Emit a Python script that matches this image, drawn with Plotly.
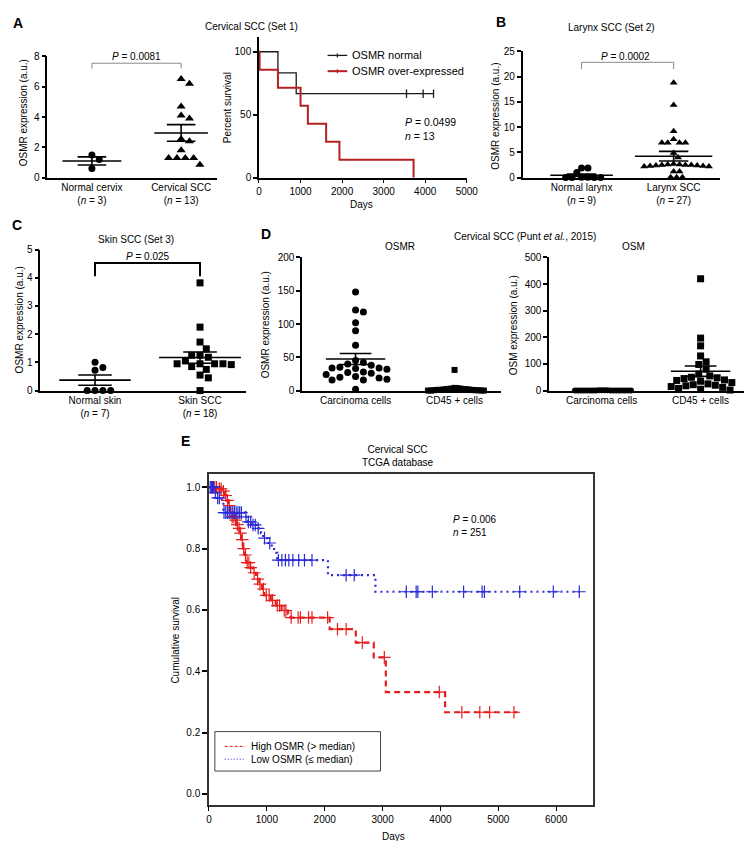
import numpy as np
import plotly.graph_objects as go

W, H = 756, 841
FONT = "Liberation Sans, Arial, Helvetica, sans-serif"

# ------------------------------------------------------------------ data
# Panel A (Set 1): OSMR expression
a_cats = ["Normal cervix<br>(<i>n</i> = 3)", "Cervical SCC<br>(<i>n</i> = 13)"]
a_normal = [1.5, 1.2, 0.6]
a_scc = [6.5, 6.2, 4.7, 4.1, 3.9, 2.55, 2.4, 1.8, 1.3, 1.3, 1.3, 1.3, 0.85]
a_mean = [1.1, 2.95]
a_sem = [0.27, 0.55]

# Panel A: Kaplan-Meier (percent survival)
km_names = ["OSMR normal", "OSMR over-expressed"]
km_norm_t = [0, 456, 896, 4200]
km_norm_s = [100, 83.3, 66.7, 66.7]
km_norm_cens = [3550, 3950, 4200]
km_over_t = [0, 15, 456, 1000, 1176, 1616, 1936, 3720]
km_over_s = [100, 85.7, 71.4, 57.1, 42.9, 28.6, 14.3, 0]

# Panel B (Set 2)
b_cats = ["Normal larynx<br>(<i>n</i> = 9)", "Larynx SCC<br>(<i>n</i> = 27)"]
b_normal = [1.0, 1.9, 1.9, 0.1, 0.1, 0.05, 0.05, 0.05, 0.05]
b_scc = [18.8, 14.4, 9.2, 7.6, 6.9, 6.9, 6.9, 6.9, 4.9, 4.0,
         2.7, 2.6, 2.6, 2.5, 2.5, 2.5, 2.4, 2.4, 2.3, 2.3, 2.2, 2.2,
         1.2, 1.2, 0.1, 0.1, 0.1]
b_mean = [0.46, 4.25]
b_sem = [0.24, 0.95]

# Panel C (Set 3)
c_cats = ["Normal skin<br>(<i>n</i> = 7)", "Skin SCC<br>(<i>n</i> = 18)"]
c_normal = [1.0, 0.82, 0.72, 0.0, 0.0, 0.0, 0.0]
c_scc = [3.82, 2.25, 1.72, 1.48, 1.25, 1.25, 1.18, 1.05, 0.95, 0.95, 0.95,
         0.95, 0.92, 0.85, 0.75, 0.55, 0.45, 0.0]
c_mean = [0.37, 1.17]
c_sem = [0.18, 0.2]

# Panel D (Punt et al., 2015)
d_cats = ["Carcinoma cells", "CD45 + cells"]
d_osmr_carc = [148, 121, 118, 102, 90, 68, 45, 42, 40, 38, 35, 34, 34, 33, 32,
               28, 27, 26, 24, 21, 20, 19, 17, 16, 16, 2]
d_osmr_cd45 = [31, 4, 3.5, 3, 3, 2.5, 2, 2, 2, 1.5, 1.5, 1, 1, 1, 0.5, 0.5,
               0.5, 0, 0, 0, 0]
d_osmr_mean = [47.4, 1.8]
d_osmr_sem = [8.2, 1.4]
d_osm_carc = [1.5, 1, 1, 1, 0.5, 0.5, 0.5, 0.5, 0, 0, 0, 0, 0, 0, 0, 0, 0, 0, 0, 0]
d_osm_cd45 = [420, 197, 168, 130, 108, 98, 80, 62, 55, 50, 48, 45, 40, 38, 35,
              30, 25, 22, 20, 18, 15, 12, 8, 5, 2]
d_osm_mean = [0.5, 72.8]
d_osm_sem = [0.2, 19.5]

# Panel E: TCGA Kaplan-Meier
e_names = ["High OSMR (&gt; median)", "Low OSMR (≤ median)"]
e_high_t = [0, 164, 220, 277, 305, 334, 362, 390, 447, 475, 503, 531, 560, 588,
            616, 644, 701, 757, 814, 870, 915, 955, 1068, 1153, 1255, 1368, 1407,
            2085, 2537, 2847, 3056, 4080, 5333]
e_high_s = [1.0, 0.995, 0.987, 0.973, 0.957, 0.94, 0.914, 0.903, 0.893, 0.878,
            0.866, 0.85, 0.829, 0.8, 0.779, 0.754, 0.738, 0.721, 0.7, 0.684,
            0.668, 0.647, 0.631, 0.614, 0.598, 0.587, 0.575, 0.537, 0.493,
            0.445, 0.332, 0.266, 0.266]
e_high_cens = [40, 70, 100, 130, 180, 210, 250, 290, 320, 350, 400, 430, 460,
               490, 520, 545, 575, 600, 630, 660, 690, 720, 780, 840, 880, 940,
               990, 1040, 1100, 1180, 1220, 1300, 1330, 1420, 1540, 1580, 1720,
               1780, 2050, 2220, 2370, 2650, 3030, 3980, 4370, 4680, 4850, 5270]
e_low_t = [0, 90, 136, 220, 249, 616, 672, 729, 814, 898, 938, 1012, 1085,
           1125, 1181, 2056, 2876, 6407]
e_low_s = [1.0, 0.982, 0.965, 0.955, 0.917, 0.903, 0.887, 0.877, 0.866, 0.85,
           0.834, 0.818, 0.805, 0.786, 0.762, 0.713, 0.659, 0.659]
e_low_cens = [20, 40, 60, 80, 110, 150, 180, 260, 290, 320, 350, 380, 410, 440,
              470, 500, 530, 560, 640, 680, 720, 760, 800, 850, 960, 1050, 1200,
              1260, 1320, 1380, 1450, 1550, 1650, 1780, 2370, 2510, 3410, 3580,
              3610, 3860, 4400, 4720, 4760, 5370, 5950, 6400]

# ------------------------------------------------------------------ helpers
fig = go.Figure()


def step_level(ts, ss, t):
    i = np.searchsorted(np.asarray(ts), np.asarray(t), side="right") - 1
    return np.asarray(ss)[np.clip(i, 0, len(ss) - 1)]


def swarm(vals, ppu_y, ppu_x, gap):
    v = np.asarray(vals, float)
    order = np.argsort(-v, kind="stable")
    placed = []
    offs = np.zeros(len(v))
    step = gap / 4.0
    for i in order:
        y = v[i] * ppu_y
        k = 0
        found = None
        while found is None:
            cands = [0.0] if k == 0 else [k * step, -k * step]
            for c in cands:
                if all((c - px) ** 2 + (y - py) ** 2 >= gap ** 2 - 1e-9 for px, py in placed):
                    found = c
                    break
            k += 1
        placed.append((found, y))
        offs[i] = found / ppu_x
    return offs


# panel geometry (pixel domains) -> axes
panels = {
    # name: (x_px_left, x_px_right, xrange, y_px_bottom, y_px_top, yrange)
    "A1": (37, 210, [-0.5, 1.4], 166, 43, [0, 8]),
    "A2": (253, 465, [0, 5000], 166, 23, [0, 112]),
    "B": (522, 723, [-0.64, 1.5], 166, 38, [0, 25]),
    "C": (30, 240, [-0.52, 1.44], 382, 239, [0, 5]),
    "D1": (297, 500, [-0.54, 1.47], 382, 247, [0, 200]),
    "D2": (549, 748, [-0.53, 1.44], 382, 247, [0, 500]),
    "E": (202, 594, [0, 6640], 802, 467, [-0.035, 1.042]),
}
order_names = ["A1", "A2", "B", "C", "D1", "D2", "E"]
axid = {n: ("" if i == 0 else str(i + 1)) for i, n in enumerate(order_names)}


def scale(name):
    xl, xr, xrg, yb, yt, yrg = panels[name]
    return (yb - yt) / (yrg[1] - yrg[0]), (xr - xl) / (xrg[1] - xrg[0])


def dots(name, cat, vals, symbol, size, gap):
    ppu_y, ppu_x = scale(name)
    offs = swarm(vals, ppu_y, ppu_x, gap)
    fig.add_trace(go.Scatter(
        x=cat + offs, y=vals, mode="markers",
        marker=dict(symbol=symbol, size=size, color="black", line=dict(width=0)),
        xaxis="x" + axid[name], yaxis="y" + axid[name],
        showlegend=False, cliponaxis=False, hoverinfo="skip"))


def mean_sem(name, means, sems, hw_mean, hw_sem, width=1.6):
    for cat, (m, s) in enumerate(zip(means, sems)):
        xs = [cat - hw_mean[cat], cat + hw_mean[cat], None,
              cat - hw_sem, cat + hw_sem, None,
              cat - hw_sem, cat + hw_sem, None, cat, cat]
        ys = [m, m, None, m + s, m + s, None, m - s, m - s, None, m - s, m + s]
        fig.add_trace(go.Scatter(
            x=xs, y=ys, mode="lines", line=dict(color="black", width=width),
            xaxis="x" + axid[name], yaxis="y" + axid[name],
            showlegend=False, cliponaxis=False, hoverinfo="skip"))


# ------------------------------------------------------------------ Panel A dot plot
dots("A1", 0, a_normal, "circle", 7, 7.5)
dots("A1", 1, a_scc, "triangle-up", 8, 8.5)
mean_sem("A1", a_mean, a_sem, [0.33, 0.3], 0.16)

# ------------------------------------------------------------------ Panel A KM
BLACK, DRED = "#1a1a1a", "#b3201e"
fig.add_trace(go.Scatter(
    x=km_norm_t, y=km_norm_s, mode="lines", line=dict(color=BLACK, width=1.3, shape="hv"),
    name=km_names[0], xaxis="x2", yaxis="y2", showlegend=False, cliponaxis=False))
fig.add_trace(go.Scatter(
    x=km_norm_cens, y=step_level(km_norm_t, km_norm_s, km_norm_cens), mode="markers",
    marker=dict(symbol="line-ns", size=6, line=dict(color=BLACK, width=1.3)),
    xaxis="x2", yaxis="y2", showlegend=False, cliponaxis=False))
fig.add_trace(go.Scatter(
    x=km_over_t, y=km_over_s, mode="lines", line=dict(color=DRED, width=2, shape="hv"),
    name=km_names[1], xaxis="x2", yaxis="y2", showlegend=False, cliponaxis=False))

# ------------------------------------------------------------------ Panel B
dots("B", 0, b_normal, "circle", 7, 6.5)
dots("B", 1, b_scc, "triangle-up", 7, 6)
mean_sem("B", b_mean, b_sem, [0.34, 0.42], 0.16)

# ------------------------------------------------------------------ Panel C
dots("C", 0, c_normal, "circle", 7, 8)
dots("C", 1, c_scc, "square", 7, 8.5)
mean_sem("C", c_mean, c_sem, [0.34, 0.39], 0.16)

# ------------------------------------------------------------------ Panel D
dots("D1", 0, d_osmr_carc, "circle", 7, 8)
dots("D1", 1, d_osmr_cd45, "square", 6, 3)
mean_sem("D1", d_osmr_mean, d_osmr_sem, [0.3, 0.3], 0.16)
dots("D2", 0, d_osm_carc, "circle", 6, 3)
dots("D2", 1, d_osm_cd45, "square", 7, 7.5)
mean_sem("D2", d_osm_mean, d_osm_sem, [0.3, 0.3], 0.16)

# ------------------------------------------------------------------ Panel E
RED, BLUE = "#e61e1e", "#2a2ad6"
fig.add_trace(go.Scatter(
    x=e_high_t, y=e_high_s, mode="lines",
    line=dict(color=RED, width=2.2, shape="hv", dash="6px,4px"),
    name=e_names[0], xaxis="x7", yaxis="y7", showlegend=False))
fig.add_trace(go.Scatter(
    x=e_low_t, y=e_low_s, mode="lines",
    line=dict(color=BLUE, width=2.2, shape="hv", dash="2px,4px"),
    name=e_names[1], xaxis="x7", yaxis="y7", showlegend=False))
fig.add_trace(go.Scatter(
    x=e_high_cens, y=step_level(e_high_t, e_high_s, e_high_cens), mode="markers",
    marker=dict(symbol="cross-thin", size=9, line=dict(color=RED, width=1.2)),
    xaxis="x7", yaxis="y7", showlegend=False))
fig.add_trace(go.Scatter(
    x=e_low_cens, y=step_level(e_low_t, e_low_s, e_low_cens), mode="markers",
    marker=dict(symbol="cross-thin", size=9, line=dict(color=BLUE, width=1.2)),
    xaxis="x7", yaxis="y7", showlegend=False))

# ------------------------------------------------------------------ axes
tickfont = dict(size=10, family=FONT, color="black")
cat_text = {"A1": a_cats, "B": b_cats, "C": c_cats, "D1": d_cats, "D2": d_cats}
ydticks = {"A1": 2, "A2": 50, "B": 5, "C": 1, "D1": 50, "D2": 100, "E": 0.2}
layout = {}
for name in order_names:
    xl, xr, xrg, yb, yt, yrg = panels[name]
    i = axid[name]
    xa = dict(domain=[xl / W, xr / W], range=xrg, anchor="y" + i, showgrid=False,
              zeroline=False, showline=True, linecolor="black", linewidth=1.5,
              tickfont=tickfont, fixedrange=True)
    ya = dict(domain=[1 - yb / H, 1 - yt / H], range=yrg, anchor="x" + i, showgrid=False,
              zeroline=False, showline=True, linecolor="black", linewidth=1.5,
              ticks="outside", ticklen=4, tickwidth=1.5, tickcolor="black",
              dtick=ydticks[name], tick0=0, tickfont=tickfont, fixedrange=True)
    if name in cat_text:
        xa.update(tickvals=[0, 1], ticktext=cat_text[name], ticks="")
    else:
        xa.update(ticks="outside", ticklen=4, tickwidth=1.3, tickcolor="black",
                  dtick=1000, tick0=0)
    if name == "E":
        for a in (xa, ya):
            a.update(mirror=True, linecolor="#333", linewidth=1.5)
        ya.update(tickformat=".1f", tickvals=[0, 0.2, 0.4, 0.6, 0.8, 1.0], ticklen=5)
        xa.update(ticklen=5)
    layout["xaxis" + i] = xa
    layout["yaxis" + i] = ya


def ann(text, x, y, size=10, bold=False, angle=0, align="center", xanchor="center"):
    if bold:
        text = "<b>" + text + "</b>"
    return dict(text=text, x=x / W, y=1 - y / H, xref="paper", yref="paper",
                showarrow=False, textangle=angle, xanchor=xanchor, yanchor="middle",
                align=align, font=dict(size=size, family=FONT, color="black"))


annotations = [
    ann("A", 7, 9, 14, True), ann("B", 500, 8, 14, True), ann("C", 6, 214, 14, True),
    ann("D", 260, 223, 14, True), ann("E", 178, 433, 14, True),
    ann("Cervical SCC (Set 1)", 245, 13),
    ann("Larynx SCC (Set 2)", 613, 14),
    ann("Skin SCC (Set 3)", 128, 229),
    ann("Cervical SCC (Punt <i>et al.</i>, 2015)", 524, 226),
    ann("OSMR", 397, 236), ann("OSM", 635, 236),
    ann("Cervical SCC<br>TCGA database", 395, 448),
    ann("<i>P</i> = 0.0081", 128, 43),
    ann("<i>P</i> = 0.0002", 627, 43),
    ann("<i>P</i> = 0.025", 140, 246),
    ann("<i>P</i> = 0.0499<br><i>n</i> = 13", 400, 117, 10.5, align="left", xanchor="left"),
    ann("<i>P</i> = 0.006<br><i>n</i> = 251", 449, 519, 10, align="left", xanchor="left"),
    ann("OSMR expression (a.u.)", 13, 100, angle=-90),
    ann("Percent survival", 221, 95, angle=-90),
    ann("OSMR expression (a.u.)", 494, 104, angle=-90),
    ann("OSMR expression (a.u.)", 9, 310, angle=-90),
    ann("OSMR expression (a.u.)", 260, 315, angle=-90),
    ann("OSM expression (a.u.)", 513, 316, angle=-90),
    ann("Cumulative survival", 168, 635, angle=-90),
    ann("Days", 358, 193),
    ann("Days", 390, 834),
    # legends (panel A KM and panel E)
    ann(km_names[0], 346, 42, 11, xanchor="left", align="left"),
    ann(km_names[1], 346, 58, 11, xanchor="left", align="left"),
    ann(e_names[0], 243, 743, 10, xanchor="left", align="left"),
    ann(e_names[1], 243, 756, 10, xanchor="left", align="left"),
]


def pline(x0, x1, y0, y1, color, width, dash="solid"):
    return dict(type="line", xref="paper", yref="paper", x0=x0 / W, x1=x1 / W,
                y0=1 - y0 / H, y1=1 - y1 / H, line=dict(color=color, width=width, dash=dash))


shapes = [
    dict(type="path", xref="x", yref="y", path="M 0,7.2 L 0,7.55 L 1,7.55 L 1,7.2",
         line=dict(color="#8a8a8a", width=1)),
    dict(type="path", xref="x3", yref="y3", path="M 0,21.5 L 0,22.85 L 1,22.85 L 1,21.5",
         line=dict(color="#8a8a8a", width=1)),
    dict(type="path", xref="x4", yref="y4", path="M 0,4.05 L 0,4.52 L 1,4.52 L 1,4.05",
         line=dict(color="black", width=2)),
    # legend box of panel E
    dict(type="rect", xref="paper", yref="paper", x0=208 / W, x1=377 / W,
         y0=1 - 768 / H, y1=1 - 728 / H, line=dict(color="#444", width=1)),
    # legend swatches
    pline(323, 343, 42, 42, BLACK, 1.3), pline(333, 333, 40, 44, BLACK, 1.3),
    pline(323, 343, 58, 58, DRED, 2), pline(333, 333, 56, 60, DRED, 1.3),
    pline(218, 239, 743, 743, RED, 1, "3px,2px"),
    pline(218, 239, 756, 756, BLUE, 1, "1px,2px"),
]

fig.update_layout(
    width=W, height=H, margin=dict(l=0, r=0, t=0, b=0),
    paper_bgcolor="white", plot_bgcolor="white",
    font=dict(family=FONT, size=10, color="black"),
    annotations=annotations, shapes=shapes, showlegend=False,
    **layout,
)

fig.write_html("out.html")
